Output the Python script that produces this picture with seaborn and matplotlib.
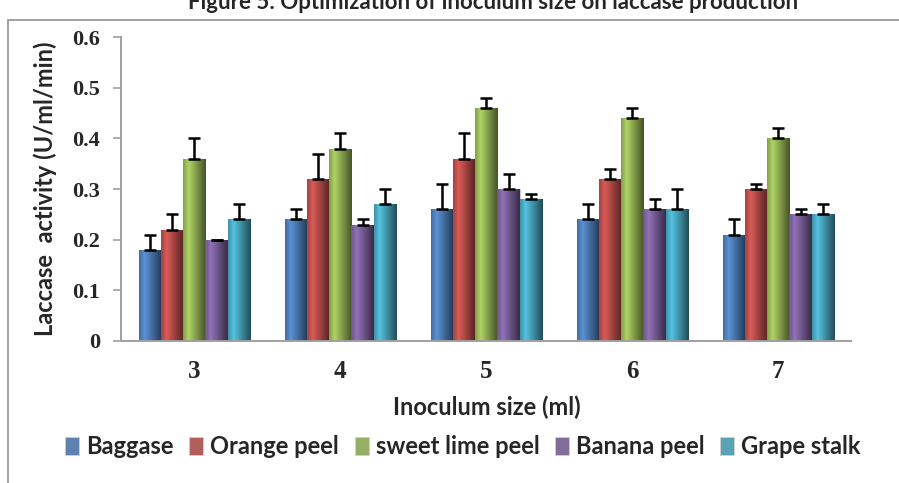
import numpy as np
import pandas as pd
import matplotlib
matplotlib.use("Agg")
import matplotlib.pyplot as plt
import matplotlib.colors as mcolors
from matplotlib.patches import Rectangle
import seaborn as sns

# data
sizes = ["3", "4", "5", "6", "7"]
substrates = ["Baggase", "Orange peel", "sweet lime peel", "Banana peel", "Grape stalk"]
baggase = [0.18, 0.24, 0.26, 0.24, 0.21]
orange = [0.22, 0.32, 0.36, 0.32, 0.30]
lime = [0.36, 0.38, 0.46, 0.44, 0.40]
banana = [0.20, 0.23, 0.30, 0.26, 0.25]
grape = [0.24, 0.27, 0.28, 0.26, 0.25]
err_baggase = [0.03, 0.02, 0.05, 0.03, 0.03]
err_orange = [0.03, 0.05, 0.05, 0.02, 0.01]
err_lime = [0.04, 0.03, 0.02, 0.02, 0.02]
err_banana = [0.00, 0.01, 0.03, 0.02, 0.01]
err_grape = [0.03, 0.03, 0.01, 0.04, 0.02]

colors = ["#4F81BD", "#C0504D", "#9BBB59", "#8064A2", "#4BACC6"]

vals = [baggase, orange, lime, banana, grape]
errs = [err_baggase, err_orange, err_lime, err_banana, err_grape]
df = pd.DataFrame({
    "size": sizes * 5,
    "substrate": np.repeat(substrates, 5),
    "activity": np.concatenate(vals),
    "err": np.concatenate(errs),
})

sns.set_style("white")
fig = plt.figure(figsize=(8.99, 4.83), dpi=100)
ax = fig.add_axes([0.135, 0.294, 0.812, 0.629])

sns.barplot(data=df, x="size", y="activity", hue="substrate", order=sizes,
            hue_order=substrates, palette=colors, errorbar=None, width=0.76,
            edgecolor="#d0d0d0", linewidth=0.6, ax=ax, zorder=2)

# shaded look + upward error bars from the bars seaborn drew
bars = [p for p in ax.patches if p.get_height() > 0 or p.get_width() > 0][:25]
for i, p in enumerate(bars):
    s = i // 5
    g = i % 5
    base = np.array(mcolors.to_rgb(colors[s]))
    shade = np.concatenate([np.linspace(0.85, 1.12, 8), np.linspace(1.12, 0.45, 24)])
    grad = np.clip(base[None, :] * shade[:, None], 0, 1)[None, :, :]
    x0, w, h = p.get_x(), p.get_width(), p.get_height()
    im = ax.imshow(grad, extent=[x0, x0 + w, 0, h], aspect="auto", zorder=2.5,
                   interpolation="bicubic")
    im.set_clip_path(p)
    xc = x0 + w / 2
    ax.errorbar(xc, h, yerr=[[0], [errs[s][g]]], fmt="none", ecolor="black",
                elinewidth=1.8, capsize=4.6, capthick=1.8, zorder=3)

ax.set_xlim(-0.5, 4.5)
ax.set_ylim(0, 0.6)
ax.set_yticks(np.arange(0, 0.61, 0.1))
ax.set_yticklabels(["0", "0.1", "0.2", "0.3", "0.4", "0.5", "0.6"])
ax.set_xticks(np.arange(-0.5, 4.6, 1.0), minor=True)
ax.tick_params(axis="x", which="major", length=0, pad=14)
ax.tick_params(axis="x", which="minor", length=7, color="#a0a0a0", width=1.2, direction="out")
ax.tick_params(axis="y", length=5.5, color="#a0a0a0", width=1.2, direction="out", pad=10, left=True)
for lab in ax.get_yticklabels():
    lab.set_fontfamily("Liberation Serif")
    lab.set_fontweight("bold")
    lab.set_fontsize(16)
for lab in ax.get_xticklabels():
    lab.set_fontfamily("Liberation Serif")
    lab.set_fontweight("bold")
    lab.set_fontsize(18)

for side in ["top", "right"]:
    ax.spines[side].set_visible(False)
for side in ["left", "bottom"]:
    ax.spines[side].set_color("#a0a0a0")
    ax.spines[side].set_linewidth(1.4)

ax.set_xlabel("Inoculum size (ml)", fontfamily="Lato", fontweight="bold", fontsize=17, labelpad=9)
ax.set_ylabel("Laccase  activity (U/ml/min)", fontfamily="Lato", fontweight="bold", fontsize=17, labelpad=11)

sns.move_legend(ax, "lower center", bbox_to_anchor=(0.468, -0.455), ncol=5, frameon=False,
                title=None, handlelength=0.6, handleheight=0.8, handletextpad=0.3,
                columnspacing=0.65, prop={"family": "Lato", "weight": "bold", "size": 17})

# outer frame and the cut-off caption
fig.patches.append(Rectangle((8 / 899, -0.1), 1.2, 1 - 20 / 483 + 0.1, transform=fig.transFigure,
                             fill=False, edgecolor="#a0a0a0", linewidth=1.4))
fig.text(493 / 899, 1 - 9 / 483, "Figure 5: Optimization of inoculum size on laccase production",
         ha="center", va="baseline", fontfamily="Lato", fontweight="bold", fontsize=16)

fig.savefig("out.png", dpi=100)
